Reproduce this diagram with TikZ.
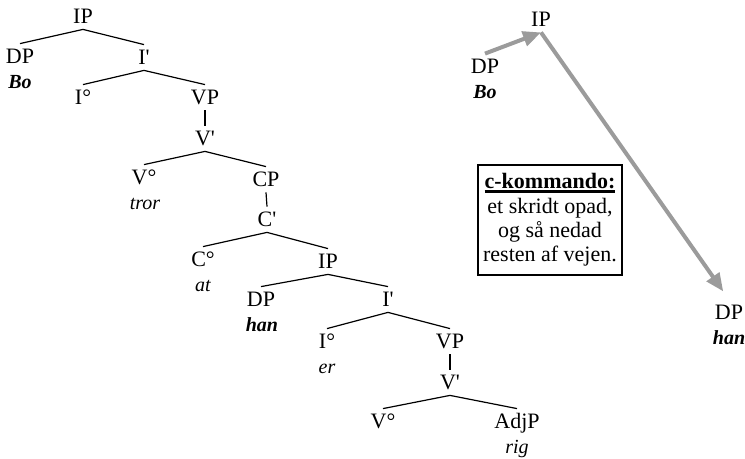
\documentclass[tikz,border=0pt]{standalone}
\usepackage{fontspec}
\setmainfont{Liberation Serif}
\usepackage{tikz}
\usetikzlibrary{arrows.meta}
\definecolor{arrowgray}{RGB}{155,155,155}
\newcommand{\bp}{\textquotesingle}
\newcommand{\thickul}[1]{\vtop{\hbox{#1}\kern0.6pt\hrule height 1.2pt}}

\begin{document}
\begin{tikzpicture}[x=0.5pt, y=-0.5pt, font=\fontsize{11}{12.2}\selectfont,
  cat/.style={anchor=base, text height=9pt, text depth=1.5pt, inner sep=1pt},
  word/.style={anchor=base, inner sep=1pt, font=\itshape},
  branch/.style={line width=0.6pt},
  cmd/.style={draw=arrowgray, line width=2pt, -{Triangle[length=9pt,width=7.5pt]}}]
\useasboundingbox (0,0) rectangle (745,459);
\path 
(83,24) node[cat] (ip1) {IP}
(20,64) node[cat] (dp1) {DP}
(20,89) node[word] (bo1) {\textbf{Bo}}
(144,65) node[cat] (ibar1) {I\bp}
(83,105) node[cat] (i1) {I°}
(205,105) node[cat] (vp1) {VP}
(205,146) node[cat] (vbar1) {V\bp}
(144,185) node[cat] (v1) {V°}
(145,210) node[word] (tror) {tror}
(266,187) node[cat] (cp) {CP}
(267,227) node[cat] (cbar) {C\bp}
(203,267) node[cat] (c) {C°}
(203,292) node[word] (at) {at}
(328,269) node[cat] (ip2) {IP}
(261,307) node[cat] (dp2) {DP}
(262,332) node[word] (han1) {\textbf{han}}
(388,307) node[cat] (ibar2) {I\bp}
(327,349) node[cat] (i2) {I°}
(327,374) node[word] (er) {er}
(450,349) node[cat] (vp2) {VP}
(450,390) node[cat] (vbar2) {V\bp}
(383,429) node[cat] (v2) {V°}
(517,429) node[cat] (adjp) {AdjP}
(517,454) node[word] (rig) {rig};

% c-kommando
\path
(541,27) node[cat] (ip3) {IP}
(485,74) node[cat] (dp3) {DP}
(485,99) node[word] (bo2) {\textbf{Bo}}
(729,320) node[cat] (dp4) {DP}
(729,345) node[word] (han2) {\textbf{han}}
(550,220) node[draw, line width=0.6pt, align=center, inner sep=0pt, minimum width=72pt, minimum height=55pt] (rule)
  {\thickul{\textbf{c-kommando:}}\\et skridt opad,\\og så nedad\\resten af vejen.};

\draw[branch] (ip1.south) -- (dp1.north);
\draw[branch] (ip1.south) -- (ibar1.north);
\draw[branch] (ibar1.south) -- (i1.north);
\draw[branch] (ibar1.south) -- (vp1.north);
\draw[branch] (vp1.south) -- (vbar1.north);
\draw[branch] (vbar1.south) -- (v1.north);
\draw[branch] (vbar1.south) -- (cp.north);
\draw[branch] (cp.south) -- (cbar.north);
\draw[branch] (cbar.south) -- (c.north);
\draw[branch] (cbar.south) -- (ip2.north);
\draw[branch] (ip2.south) -- (dp2.north);
\draw[branch] (ip2.south) -- (ibar2.north);
\draw[branch] (ibar2.south) -- (i2.north);
\draw[branch] (ibar2.south) -- (vp2.north);
\draw[branch] (vp2.south) -- (vbar2.north);
\draw[branch] (vbar2.south) -- (v2.north);
\draw[branch] (vbar2.south) -- (adjp.north);

\draw[cmd] (dp3.north) -- (ip3.south);
\draw[cmd, shorten >=5pt] (ip3.south) -- (dp4.north);
\end{tikzpicture}
\end{document}
